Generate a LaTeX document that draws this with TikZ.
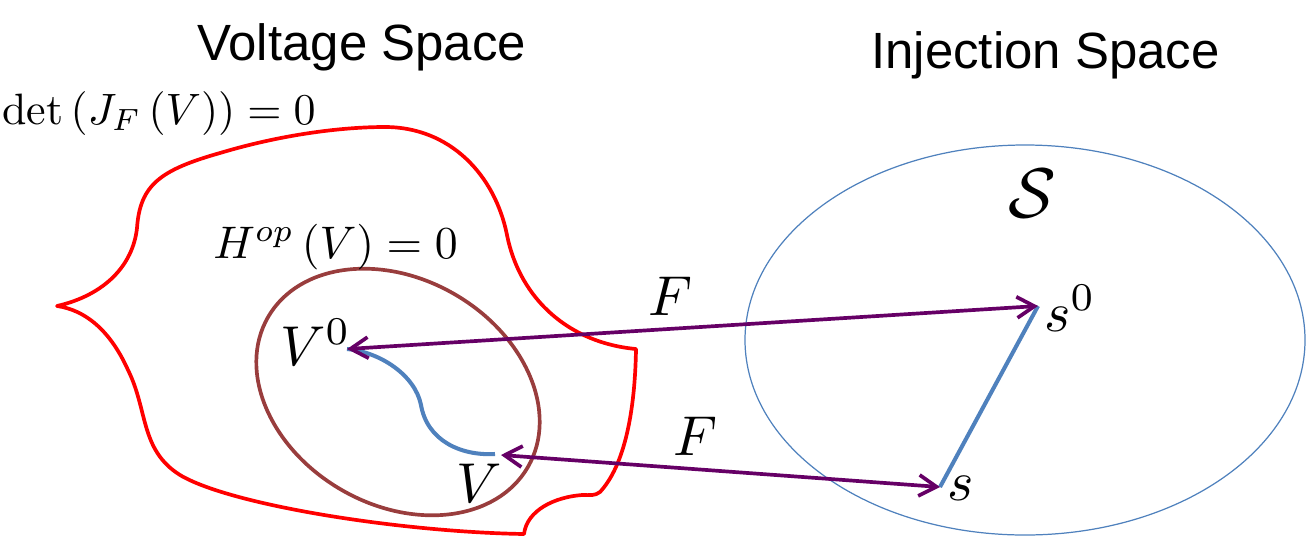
\documentclass[tikz,border=0pt]{standalone}
\usepackage{graphicx}
\usepackage{fontspec}
\newfontfamily\titlefont{Liberation Sans}
\usetikzlibrary{arrows.meta}
\newcommand{\setfs}[1]{\fontsize{#1}{#1}\selectfont}
\newcommand{\bigmath}[2]{\scalebox{#1}{$#2$}}
\definecolor{cred}{RGB}{255,0,0}
\definecolor{cbrown}{RGB}{153,61,61}
\definecolor{cblue}{RGB}{79,129,189}
\definecolor{cpurple}{RGB}{102,0,102}
\tikzset{
  titletext/.style={inner sep=0pt, anchor=base west, font=\titlefont\setfs{29pt}},
  mathlabel/.style={inner sep=0pt, anchor=base west},
  boundary/.style={draw=cred, line width=2.1pt, line join=round},
  opregion/.style={draw=cbrown, line width=2.1pt},
  injregion/.style={draw=cblue, line width=0.7pt},
  pathcurve/.style={draw=cblue, line width=2.3pt},
  maparrow/.style={draw=cpurple, line width=2.1pt,
    {Straight Barb[length=10pt,width=12pt]}-{Straight Barb[length=10pt,width=12pt]}}
}
\begin{document}
\begin{tikzpicture}[x=0.02cm,y=-0.02cm]
\useasboundingbox (0,0) rectangle (1310,558);

% titles
\node[titletext] (vtitle) at (197,60) {Voltage Space};
\node[titletext] (ititle) at (871,68) {Injection Space};

% red boundary det(J_F(V))=0
\draw[boundary] (57,306)
  .. controls (105,295) and (133,265) .. (137,228)
  .. controls (140,185) and (160,170) .. (220,153)
  .. controls (280,135) and (340,127) .. (385,127)
  .. controls (450,127) and (495,175) .. (507,235)
  .. controls (520,300) and (570,343) .. (636,349)
  .. controls (635,410) and (625,465) .. (600,492)
  .. controls (595,496) and (590,495) .. (582,495)
  .. controls (555,497) and (527,510) .. (524,534)
  .. controls (400,532) and (230,505) .. (180,475)
  .. controls (140,450) and (148,410) .. (128,370)
  .. controls (110,330) and (85,310) .. (57,306) -- cycle;

% brown ellipse H^op(V)=0
\draw[opregion, rotate around={-30:(398,392)}] (398,392) ellipse [x radius=150, y radius=113];

% injection space ellipse
\draw[injregion] (1025,340) ellipse [x radius=280, y radius=195];

% points
\coordinate (v0) at (347,349);
\coordinate (v) at (501,455);
\coordinate (s0) at (1038,306);
\coordinate (s) at (940,487);
\coordinate (vend) at (495,454);

% blue paths
\draw[pathcurve] (v0) .. controls (380,352) and (415,375) .. (421,405)
  .. controls (427,440) and (460,456) .. (vend);
\draw[pathcurve] (s0) -- (s);

% maps
\draw[maparrow] (v0) -- (s0);
\draw[maparrow] (v) -- (s);

% labels
\node[mathlabel] (detlab) at (2,124) {\bigmath{2.5}{\det\left(J_F\left(V\right)\right)=0}};
\node[mathlabel] (hlab) at (213,258) {\bigmath{2.6}{H^{op}\left(V\right)=0}};
\node[mathlabel] (v0lab) at (280,365) {\bigmath{3.2}{V^0}};
\node[mathlabel] (vlab) at (456,502) {\bigmath{3.2}{V}};
\node[mathlabel] (f1lab) at (648,315) {\bigmath{3.2}{F}};
\node[mathlabel] (f2lab) at (673,455) {\bigmath{3.2}{F}};
\node[mathlabel] (slab) at (1008,217) {\bigmath{4}{\mathcal{S}}};
\node[mathlabel] (s0lab) at (1044,331) {\bigmath{3.2}{s^0}};
\node[mathlabel] (slab2) at (947,500) {\bigmath{3.2}{s}};
\end{tikzpicture}
\end{document}
